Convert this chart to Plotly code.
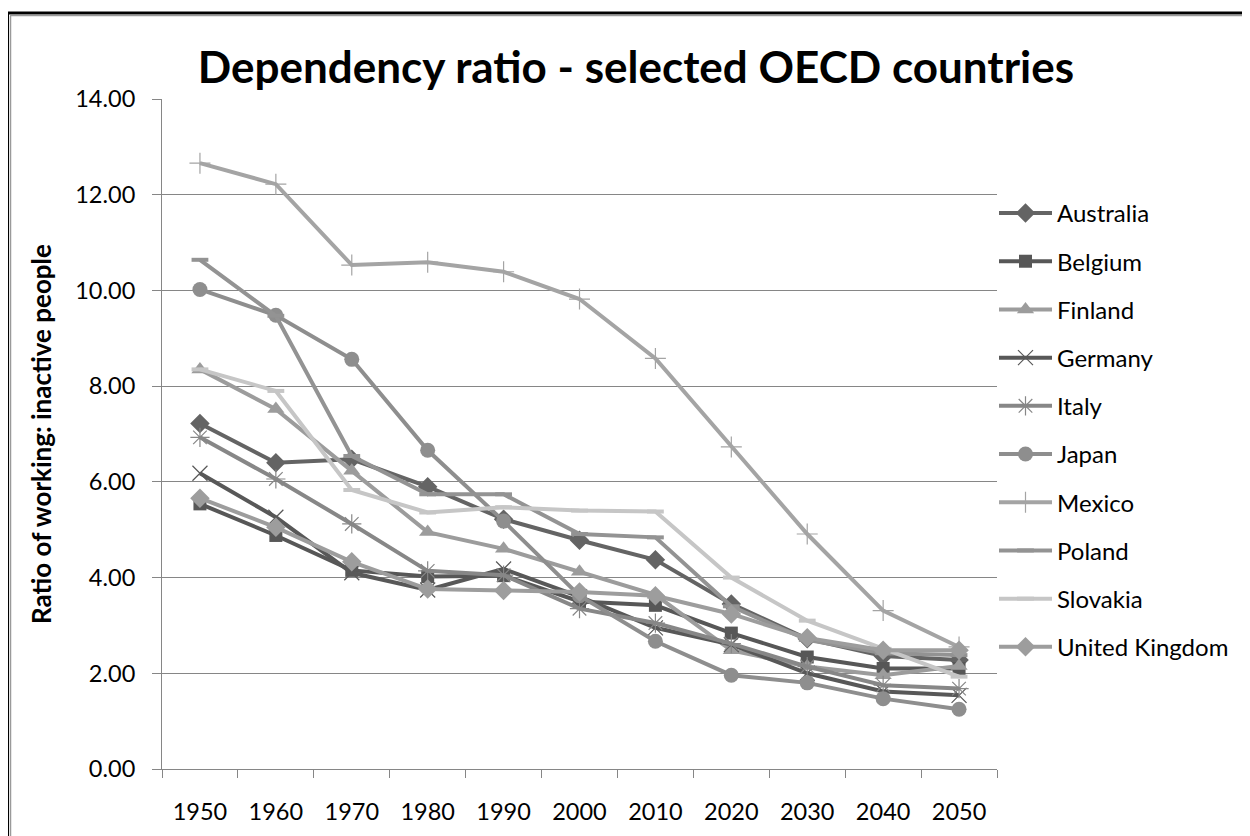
import plotly.graph_objects as go

years = ["1950", "1960", "1970", "1980", "1990", "2000", "2010", "2020", "2030", "2040", "2050"]
australia = [7.22, 6.40, 6.47, 5.90, 5.22, 4.78, 4.37, 3.45, 2.72, 2.36, 2.28]
belgium = [5.54, 4.88, 4.15, 4.02, 4.04, 3.50, 3.42, 2.84, 2.34, 2.10, 2.10]
finland = [8.35, 7.52, 6.23, 4.95, 4.60, 4.12, 3.64, 2.48, 2.14, 1.96, 2.15]
germany = [6.18, 5.26, 4.10, 3.74, 4.18, 3.60, 2.95, 2.60, 2.00, 1.62, 1.54]
italy = [6.93, 6.06, 5.12, 4.14, 4.05, 3.35, 3.05, 2.62, 2.14, 1.75, 1.68]
japan = [10.02, 9.48, 8.56, 6.66, 5.18, 3.62, 2.67, 1.96, 1.80, 1.47, 1.25]
mexico = [12.66, 12.22, 10.53, 10.59, 10.39, 9.82, 8.58, 6.73, 4.91, 3.31, 2.55]
poland = [10.64, 9.47, 6.54, 5.74, 5.74, 4.91, 4.84, 3.40, 2.70, 2.42, 2.38]
slovakia = [8.35, 7.90, 5.83, 5.36, 5.47, 5.40, 5.38, 4.00, 3.10, 2.51, 1.93]
uk = [5.66, 5.05, 4.33, 3.76, 3.73, 3.70, 3.62, 3.24, 2.74, 2.48, 2.48]

series = [
    ("Australia", australia, "#646464", "diamond", 15, 0),
    ("Belgium", belgium, "#575757", "square", 13, 0),
    ("Finland", finland, "#9c9c9c", "triangle-up", 15, 0),
    ("Germany", germany, "#585858", "x-thin-open", 15, 1.2),
    ("Italy", italy, "#878787", "asterisk-open", 16, 1.2),
    ("Japan", japan, "#8e8e8e", "circle", 15, 0),
    ("Mexico", mexico, "#a4a4a4", "cross-thin-open", 15, 1.2),
    ("Poland", poland, "#939393", "line-ew-open", 12, 4),
    ("Slovakia", slovakia, "#c6c6c6", "line-ew-open", 12, 4),
    ("United Kingdom", uk, "#9d9d9d", "diamond", 15, 0),
]

FONT = "Lato"
OFF = 8  # page body offset

fig = go.Figure()
for i, (name, vals, col, sym, size, lw) in enumerate(series):
    marker = dict(symbol=sym, size=size, color=col)
    if lw:
        marker["line"] = dict(color=col, width=lw)
    fig.add_trace(go.Scatter(
        x=years, y=vals, name=name, mode="lines+markers",
        line=dict(color=col, width=4), marker=marker,
        legendgroup=f"g{i}",
    ))

W, H = 1250 - OFF, 836 - OFF
# plot area in reference pixel coordinates
L, R, T, B = 162, 997, 99, 769.5

def px(x):
    return (x - L) / (R - L)

def py(y):
    return (B - y) / (B - T)

shapes = [
    dict(type="line", xref="paper", yref="paper", x0=px(7.5), x1=px(7.5), y0=py(12), y1=py(850),
         line=dict(color="black", width=3)),
    dict(type="line", xref="paper", yref="paper", x0=px(6), x1=px(1260), y0=py(13), y1=py(13),
         line=dict(color="black", width=3)),
    dict(type="line", xref="paper", yref="paper", x0=px(10.5), x1=px(10.5), y0=py(15.5), y1=py(850),
         line=dict(color="#9a9a9a", width=1.5)),
    dict(type="line", xref="paper", yref="paper", x0=px(10), x1=px(1260), y0=py(15.5), y1=py(15.5),
         line=dict(color="#9a9a9a", width=1.5)),
]

fig.update_layout(
    width=W, height=H,
    margin=dict(l=L - OFF, r=W - (R - OFF), t=T - OFF, b=H - (B - OFF), pad=0),
    paper_bgcolor="white", plot_bgcolor="white",
    font=dict(family=FONT, color="black", size=20),
    title=dict(text="<b>Dependency ratio - selected OECD countries</b>",
               x=px(636), xanchor="center", xref="paper",
               y=1 - (68 - OFF) / H, yanchor="middle",
               font=dict(family=FONT, size=44, color="black")),
    showlegend=True,
    legend=dict(x=px(994), xanchor="left", y=py(191), yanchor="top",
                font=dict(family=FONT, size=24, color="black"),
                tracegroupgap=14, itemwidth=53, bgcolor="rgba(0,0,0,0)",
                traceorder="grouped"),
    shapes=shapes,
)

fig.update_xaxes(
    type="category", tickson="boundaries", ticks="outside", ticklen=8,
    tickcolor="#868686", showline=True, linecolor="#868686", linewidth=1,
    showgrid=False, tickfont=dict(family=FONT, size=23.5), range=[-0.5, 10.5],
    ticklabelstandoff=22,
)
fig.update_yaxes(
    range=[0, 14], dtick=2, tickformat=".2f", ticks="outside", ticklen=9,
    tickcolor="#868686", showline=True, linecolor="#868686", linewidth=1,
    showgrid=True, gridcolor="#868686", gridwidth=1, zeroline=False,
    tickfont=dict(family=FONT, size=23.5), ticklabelstandoff=12,
    title=dict(text="<b>Ratio of working: inactive people</b>",
               font=dict(family=FONT, size=26), standoff=16),
)

fig.write_html("out.html")
